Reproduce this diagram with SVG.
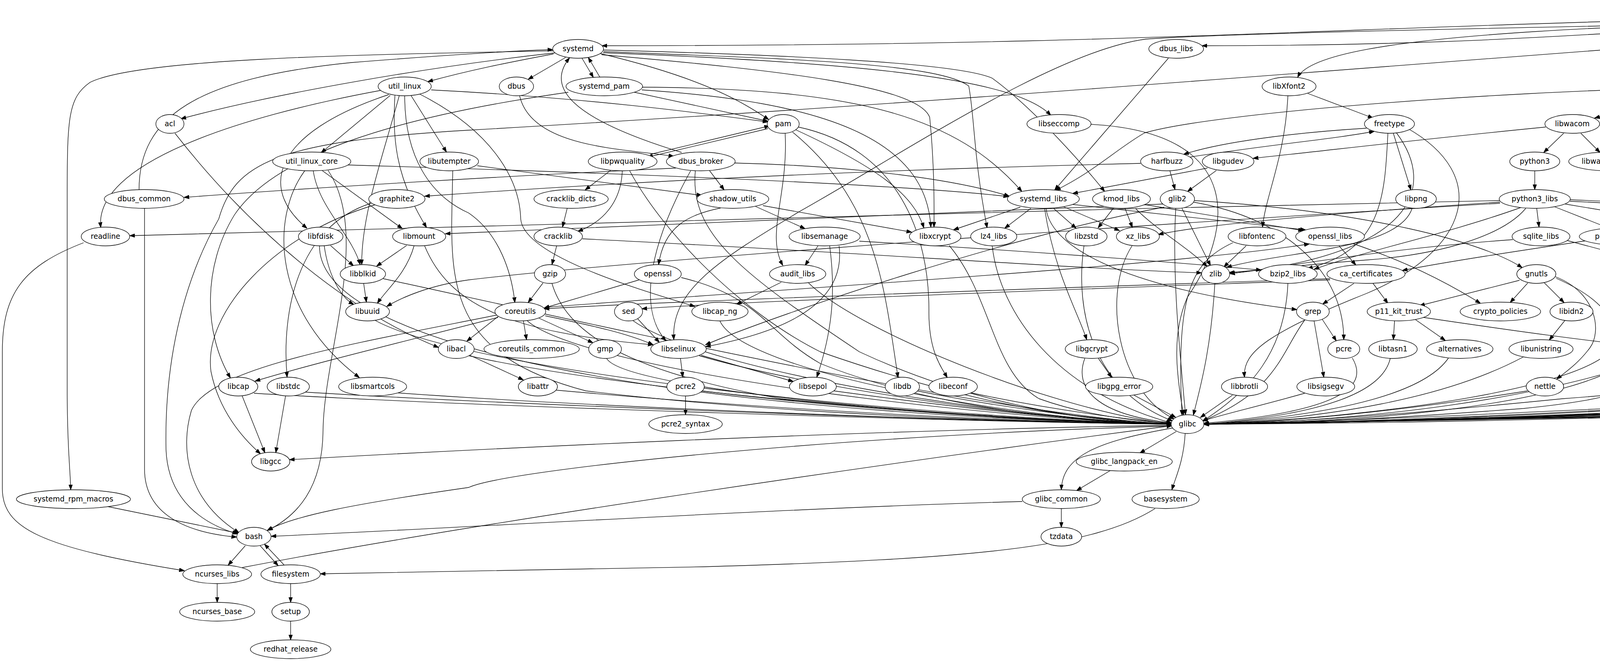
<svg xmlns="http://www.w3.org/2000/svg" width="7081" height="1691" viewBox="0 0 7081 1691">
<style>
.node ellipse{fill:#fff;stroke:#000;stroke-width:1.33}
.node text{font-family:"DejaVu Sans","Liberation Sans",sans-serif;font-size:18.67px;text-anchor:middle;fill:#000}
#edges path{fill:none;stroke:#000;stroke-width:1.33;marker-end:url(#arr)}
</style>
<defs>
<marker id="arr" viewBox="0 -5 14 10" refX="13.3" refY="0" markerWidth="14" markerHeight="10" markerUnits="userSpaceOnUse" orient="auto"><path d="M0,-4.7 L13.3,0 L0,4.7 z" fill="#000" stroke="#000" stroke-width="1.2"/></marker>
</defs>
<rect width="7081" height="1691" fill="#fff"/>
<g id="edges">
<path d="M5409,37 C3668,37 3282,117 1541,117"/>
<path d="M5409,39 C4360,39 4126,117 3077,117"/>
<path d="M5409,41 C4200,55 3380,80 3322,198"/>
<path d="M5537,53 L5537,101"/>
<path d="M5685,37 C6000,50 6300,80 6397,111"/>
<path d="M5685,39 C6400,60 6742,120 6742,197"/>
<path d="M5685,35 C6300,45 6720,60 6808,106"/>
<path d="M5685,33 C6400,40 6900,60 6971,106"/>
<path d="M5640,50 C5760,150 5650,330 5625,390"/>
<path d="M5650,48 C5900,150 6000,280 6068,390"/>
<path d="M5460,52 C5372,95 5362,140 5362,250 L5362,581"/>
<path d="M5400,40 C4500,60 3200,80 2934,100 C2700,130 2300,400 2045,542 C1850,660 1716,740 1725,869"/>
<path d="M5400,44 C4500,80 3000,230 1200,333 C700,362 600,420 560,560 C480,700 420,900 425,1150 C430,1280 520,1340 608,1366"/>
<path d="M5620,50 C5900,150 6420,400 6400,700 C6390,900 6380,990 6100,1010 C5000,1050 3500,1080 3082,1085"/>
<path d="M5557,101 L5557,53"/>
<path d="M5410,133 C4975,133 4879,213 4444,213"/>
<path d="M5684,133 C5994,133 6064,213 6374,213"/>
<path d="M6520,149 C6515,170 6505,180 6500,197"/>
<path d="M6590,148 L6707,201"/>
<path d="M6574,149 C6640,200 6646,250 6646,350 C6646,480 6670,540 6685,582"/>
<path d="M6858,149 C6895,250 6902,350 6902,880 C6902,960 6850,990 6700,1005 C5500,1040 3600,1080 3082,1085"/>
<path d="M7005,149 C6985,300 6983,400 6983,880 C6983,960 6950,1000 6800,1012 C5600,1045 3600,1080 3082,1086"/>
<path d="M6765,243 C6820,320 6853,370 6853,500 L6853,880 C6853,950 6800,990 6700,1000 C5500,1040 3600,1078 3082,1084"/>
<path d="M6681,629 L6604,775"/>
<path d="M6708,629 L6733,678"/>
<path d="M6711,724 L6622,780"/>
<path d="M6746,725 C6748,850 6740,950 6550,990 C5500,1040 3600,1078 3082,1084"/>
<path d="M6509,723 L6563,776"/>
<path d="M6482,725 C6470,850 6460,980 6380,1005 C5500,1040 3600,1078 3082,1084"/>
<path d="M6336,716 L6540,785"/>
<path d="M6306,629 L6298,677"/>
<path d="M6586,821 L6586,869"/>
<path d="M6537,808 C6400,830 6200,860 6053,886"/>
<path d="M5992,917 L5972,966"/>
<path d="M5910,996 C5000,1030 3600,1080 3082,1085"/>
<path d="M6242,821 L6250,869"/>
<path d="M6218,821 C6200,900 6180,960 6100,990 C5300,1030 3600,1080 3082,1085"/>
<path d="M6172,723 L6212,774"/>
<path d="M6145,725 C6130,850 6100,990 5980,1010 C5200,1040 3600,1080 3082,1085"/>
<path d="M6103,485 L6103,437"/>
<path d="M6057,531 L5958,583"/>
<path d="M6141,531 L6268,584"/>
<path d="M6103,533 C6110,600 6130,640 6143,678"/>
<path d="M6118,533 L6260,681"/>
<path d="M6176,515 C6400,540 6530,580 6500,678"/>
<path d="M6014,515 C5700,520 5350,540 5215,588"/>
<path d="M6020,525 C5900,545 5830,560 5790,588"/>
<path d="M6084,533 C6060,700 6020,780 6015,870"/>
<path d="M6085,437 L6085,485"/>
<path d="M6043,432 C5900,460 5800,480 5749,497"/>
<path d="M6170,425 C6450,480 6580,600 6584,773"/>
<path d="M5583,435 L5537,486"/>
<path d="M5550,486 L5593,436"/>
<path d="M5631,436 L5674,486"/>
<path d="M5670,531 C5580,600 5569,650 5569,800 C5569,1000 5500,1010 5300,1006 C4800,1000 3700,1075 3082,1085"/>
<path d="M5455,527 L5212,588"/>
<path d="M5481,531 L5400,583"/>
<path d="M5562,531 L5683,585"/>
<path d="M5590,525 L5866,590"/>
<path d="M5430,511 C5100,520 5022,580 5022,677"/>
<path d="M5516,533 C5500,700 5420,800 5300,874"/>
<path d="M5536,533 C5600,680 5800,800 5968,877"/>
<path d="M5302,624 L5074,691"/>
<path d="M5347,629 L5272,773"/>
<path d="M5447,615 C5700,640 5900,670 6102,694"/>
<path d="M5052,611 C4700,630 4400,700 4200,900 C4050,1050 3400,1083 3082,1085"/>
<path d="M5715,629 C5700,700 5692,750 5692,900 C5692,990 5600,1015 5400,1020 C4500,1045 3500,1083 3082,1085"/>
<path d="M5890,627 C5790,680 5776,750 5776,880 C5776,980 5700,1010 5500,1022 C4500,1050 3500,1083 3082,1085"/>
<path d="M5180,818 C5100,860 5076,900 5075,965"/>
<path d="M5194,916 L5104,971"/>
<path d="M5217,917 C5170,990 5120,1015 4900,1040 C4300,1070 3500,1084 3082,1085"/>
<path d="M5040,1000 C4500,1050 3500,1083 3082,1085"/>
<path d="M5038,725 C5038,850 5040,960 4960,1010 C4700,1050 3500,1083 3082,1085"/>
<path d="M4340,238 L4082,302"/>
<path d="M4448,228 C4600,240 4750,270 4812,302"/>
<path d="M4447,234 C4650,260 4850,280 4940,303"/>
<path d="M4330,224 C3800,235 3100,290 2930,340 C2860,380 2800,440 2702,487"/>
<path d="M4447,232 C4700,250 4762,300 4762,400 C4762,600 4700,700 4400,850 C4000,1040 3400,1080 3082,1085"/>
<path d="M4003,341 L3952,390"/>
<path d="M4047,341 L4096,390"/>
<path d="M3957,325 C3600,360 3400,385 3208,405"/>
<path d="M3929,437 L3929,485"/>
<path d="M3934,533 L3940,581"/>
<path d="M3980,529 L4122,585"/>
<path d="M4007,522 L4392,586"/>
<path d="M4019,511 C4500,530 4700,560 4712,773"/>
<path d="M4019,515 C4600,540 4900,600 4998,684"/>
<path d="M3906,533 C3850,600 3700,650 3500,665 C3300,680 3200,695 3147,697"/>
<path d="M3893,531 C3700,600 3500,640 3364,689"/>
<path d="M3840,517 C3500,540 3100,570 2965,600"/>
<path d="M3840,513 C2500,540 800,590 332,603"/>
<path d="M3840,520 C2500,600 1500,680 1200,716 C1100,730 1030,760 990,784"/>
<path d="M3873,613 C3500,640 3250,690 3148,700"/>
<path d="M4000,612 C4400,720 4596,760 4596,850 C4596,960 4400,990 4000,1020 C3600,1060 3300,1082 3082,1085"/>
<path d="M4060,616 C3900,640 3700,670 3590,692"/>
<path d="M4707,821 C4705,930 4680,1000 4500,1025 C4000,1060 3400,1083 3082,1085"/>
<path d="M4988,341 C4960,600 4946,800 4946,900 C4946,990 4850,1005 4600,1030 C4000,1070 3400,1083 3082,1085"/>
<path d="M4854,341 C4860,600 4862,800 4862,900 C4862,980 4800,1000 4600,1020 C4000,1065 3400,1083 3082,1085"/>
<path d="M3890,717 L3634,782"/>
<path d="M3911,724 L3866,774"/>
<path d="M3953,723 L4004,774"/>
<path d="M3982,708 C4090,750 4100,850 4070,890 C4040,930 4010,950 3985,970"/>
<path d="M3984,712 C4140,780 4150,860 4120,900 C4020,1000 3500,1070 3082,1085"/>
<path d="M3570,821 L3567,869"/>
<path d="M3624,818 L3700,871"/>
<path d="M3644,812 C3900,850 4050,870 4208,887"/>
<path d="M3559,917 C3540,1000 3400,1060 3082,1085"/>
<path d="M3708,916 C3650,1000 3450,1060 3082,1085"/>
<path d="M3900,913 C3700,1020 3400,1070 3082,1085"/>
<path d="M3910,1000 C3600,1050 3300,1080 3082,1085"/>
<path d="M4006,820 L3966,870"/>
<path d="M4321,902 C4600,930 4850,960 5037,983"/>
<path d="M4255,917 C4220,990 4150,1020 3900,1045 C3500,1075 3300,1083 3082,1085"/>
<path d="M3515,725 L3553,776"/>
<path d="M3466,725 L3386,778"/>
<path d="M3405,713 C2900,730 1700,770 1393,790"/>
<path d="M3405,716 C2900,735 1900,770 1643,790"/>
<path d="M3385,817 L3421,872"/>
<path d="M3364,821 L3389,965"/>
<path d="M3340,819 C3280,900 3270,1000 3078,1077"/>
<path d="M3462,916 C3500,980 3460,1050 3081,1083"/>
<path d="M3340,1006 C3220,1040 3130,1060 3078,1077"/>
<path d="M3155,1011 L3073,1068"/>
<path d="M2903,1011 L3010,1068"/>
<path d="M2812,917 L2846,966"/>
<path d="M2777,917 C2750,990 2800,1060 2999,1082"/>
<path d="M2486,1005 C2700,1050 2900,1075 3000,1083"/>
<path d="M2348,1000 C2600,1050 2850,1078 3000,1084"/>
<path d="M2135,1000 C2500,1050 2800,1080 3000,1084"/>
<path d="M1755,1013 L1755,1061"/>
<path d="M1797,1000 C2200,1050 2700,1080 3000,1085"/>
<path d="M1423,998 C2000,1050 2600,1080 3000,1085"/>
<path d="M620,1013 L678,1158"/>
<path d="M650,1006 C1200,1040 2500,1080 3000,1085"/>
<path d="M731,1013 L706,1158"/>
<path d="M780,1003 C1300,1035 2500,1080 3000,1085"/>
<path d="M1017,1005 C1500,1040 2500,1080 3000,1085"/>
<path d="M961,820 C1200,950 2300,1065 3000,1085"/>
<path d="M931,725 L938,773"/>
<path d="M981,713 C1300,780 2500,1060 3000,1085"/>
<path d="M1041,628 L964,681"/>
<path d="M1060,629 C1040,700 990,740 966,776"/>
<path d="M1087,629 C1150,780 1300,850 1672,882"/>
<path d="M846,628 L905,680"/>
<path d="M830,629 C840,700 870,760 906,779"/>
<path d="M818,629 C815,900 1800,1060 3000,1085"/>
<path d="M802,437 C815,530 900,600 922,677"/>
<path d="M823,435 L1030,585"/>
<path d="M780,437 C690,560 700,800 920,966"/>
<path d="M890,422 C1500,440 2300,470 2582,503"/>
<path d="M840,436 C950,600 830,900 827,1100 C826,1250 760,1320 685,1357"/>
<path d="M976,231 C600,300 240,420 258,582"/>
<path d="M995,242 C700,340 660,480 786,584"/>
<path d="M999,244 L822,391"/>
<path d="M1022,245 C980,400 925,550 926,677"/>
<path d="M1011,244 C1005,350 1010,450 1092,582"/>
<path d="M1052,244 L1143,389"/>
<path d="M1104,230 C1500,250 1800,290 1966,312"/>
<path d="M1075,241 C1250,330 1330,450 1333,560 C1340,650 1600,730 1779,784"/>
<path d="M1036,245 C1036,400 1100,500 1200,545 C1280,600 1310,700 1318,774"/>
<path d="M1448,147 L1352,203"/>
<path d="M1490,149 L1519,198"/>
<path d="M1536,198 L1506,147"/>
<path d="M1417,138 C1300,160 1200,180 1095,209"/>
<path d="M1423,135 C1100,170 700,240 463,304"/>
<path d="M1416,130 C900,140 350,150 230,211 C175,250 172,300 172,500 L172,1000 C172,1150 180,1200 181,1253"/>
<path d="M1545,128 C2000,140 2450,160 2540,200 C2650,280 2780,430 2828,490"/>
<path d="M1545,132 C2000,150 2400,160 2480,220 C2495,300 2492,400 2527,583"/>
<path d="M1544,135 C2200,160 2600,200 2690,295"/>
<path d="M1540,140 C2000,180 2350,220 2380,300 C2390,400 2392,500 2391,581"/>
<path d="M1537,137 C1800,200 1900,260 1968,306"/>
<path d="M1330,244 C1360,380 1600,380 1725,400"/>
<path d="M1624,236 L1966,310"/>
<path d="M1645,223 C2200,226 2450,300 2616,490"/>
<path d="M1643,230 C2100,260 2370,350 2383,581"/>
<path d="M1455,236 C1000,300 700,400 600,550 C520,680 520,850 590,967"/>
<path d="M1966,329 L1658,402"/>
<path d="M1664,395 L1970,322"/>
<path d="M2010,341 C2018,500 1960,600 2004,679"/>
<path d="M2029,338 C2250,520 2265,750 2299,966"/>
<path d="M2044,325 C2300,380 2380,600 2378,800 C2378,900 2410,940 2425,966"/>
<path d="M2037,332 C2250,430 2340,500 2365,583"/>
<path d="M1563,436 L1498,486"/>
<path d="M1593,437 C1590,520 1540,570 1479,592"/>
<path d="M1612,437 C1700,600 1900,800 2100,900 C2500,1040 2800,1080 3000,1085"/>
<path d="M1452,533 L1440,581"/>
<path d="M1425,629 L1413,677"/>
<path d="M1491,611 C2100,640 2800,690 3076,698"/>
<path d="M1390,724 L1352,774"/>
<path d="M1413,725 C1450,850 1600,950 2000,1020 C2500,1070 2800,1083 3000,1085"/>
<path d="M1636,716 L1393,788"/>
<path d="M1744,710 C1950,760 1960,850 2100,930 C2400,1050 2800,1082 3000,1085"/>
<path d="M1845,532 C1760,550 1700,580 1686,677"/>
<path d="M1340,821 L1348,869"/>
<path d="M1276,809 L1195,873"/>
<path d="M1380,814 L1518,877"/>
<path d="M1396,808 C1500,830 1600,850 1672,882"/>
<path d="M1275,812 C1050,870 800,930 653,975"/>
<path d="M1396,786 C2000,740 3000,680 3352,624"/>
<path d="M1272,806 C900,880 540,940 490,1050 C460,1150 480,1280 612,1363"/>
<path d="M1350,821 C1500,950 2500,1070 3000,1085"/>
<path d="M1632,815 L1688,876"/>
<path d="M1620,820 C1800,950 2600,1075 3000,1085"/>
<path d="M1843,821 C1900,950 2600,1075 3000,1085"/>
<path d="M2000,722 L1885,779"/>
<path d="M2070,724 C2200,850 2700,1050 3000,1085"/>
<path d="M1742,917 L1748,965"/>
<path d="M1795,909 L2031,976"/>
<path d="M1790,910 C2100,1000 2700,1080 3000,1085"/>
<path d="M1203,909 L1340,972"/>
<path d="M1200,910 C1600,1000 2500,1075 3000,1085"/>
<path d="M1553,917 C1600,1000 2500,1075 3000,1085"/>
<path d="M2094,629 L2061,679"/>
<path d="M2124,629 C2140,750 2130,850 2091,965"/>
<path d="M2148,629 C2170,800 1950,860 1806,887"/>
<path d="M2200,617 C2600,640 3000,670 3229,691"/>
<path d="M1934,528 L2061,585"/>
<path d="M1953,526 L2334,594"/>
<path d="M1222,424 L1797,500"/>
<path d="M1159,437 C1155,700 1120,900 1500,1000 C2000,1060 2600,1080 3000,1085"/>
<path d="M1745,390 C1450,300 1400,220 1458,148"/>
<path d="M1730,430 C1300,450 800,480 471,505"/>
<path d="M1816,436 L1854,486"/>
<path d="M1880,417 C2200,425 2450,460 2584,502"/>
<path d="M1780,437 C1765,600 1900,700 2200,900 C2500,1040 2800,1080 3000,1085"/>
<path d="M1768,437 C1650,650 1640,800 1705,872"/>
<path d="M356,485 C356,300 500,200 900,160 C1150,140 1350,128 1415,127"/>
<path d="M370,533 L370,1200 C370,1300 450,1360 606,1374"/>
<path d="M950,520 C760,580 720,800 735,965"/>
<path d="M960,524 C700,600 520,800 540,950 C560,1050 620,1120 667,1161"/>
<path d="M3045,402 C3250,370 3420,355 3518,336"/>
<path d="M3498,328 C3300,340 3120,365 3030,395"/>
<path d="M2995,437 L3008,485"/>
<path d="M2920,418 C2000,440 1400,480 1087,502"/>
<path d="M3567,341 L3612,486"/>
<path d="M3553,341 C3545,500 3540,640 3347,687"/>
<path d="M3575,340 C3680,480 3620,650 3148,700"/>
<path d="M3601,327 C3820,450 3760,640 3500,750 C3250,850 3180,900 3186,965"/>
<path d="M3615,533 C3580,640 3300,640 3140,684"/>
<path d="M3348,239 L3515,302"/>
<path d="M3297,245 C3290,400 3240,500 3232,581"/>
<path d="M3190,629 L3133,683"/>
<path d="M3156,621 C3050,670 3010,750 3026,1062"/>
<path d="M2991,149 L2700,486"/>
<path d="M2793,318 C3200,340 3150,600 3040,760 C3000,850 3010,950 3030,1062"/>
<path d="M2850,533 L2811,583"/>
<path d="M2880,533 L2899,582"/>
<path d="M2907,533 C2950,580 3050,640 3090,682"/>
<path d="M2928,523 L3337,590"/>
<path d="M2612,530 L2441,588"/>
<path d="M2639,533 L2572,584"/>
<path d="M2697,533 L2755,584"/>
<path d="M2723,529 L2866,590"/>
<path d="M2746,523 L3342,588"/>
<path d="M2674,533 C2700,700 2760,800 2782,869"/>
<path d="M2678,533 C2690,640 2900,740 3320,792"/>
<path d="M3026,533 L3099,680"/>
<path d="M2977,522 C2300,550 1500,580 1140,598"/>
<path d="M2980,530 C2600,600 2000,800 1806,882"/>
<path d="M3055,517 C3300,560 3440,700 3440,869"/>
<path d="M3057,513 C3500,540 3800,620 3897,685"/>
<path d="M3010,533 C3000,700 3020,900 3035,1061"/>
<path d="M3114,436 L3040,490"/>
<path d="M3091,430 L2746,495"/>
<path d="M2540,629 C2560,800 2700,1000 2999,1082"/>
<path d="M2775,629 C2750,800 2800,1000 3002,1077"/>
<path d="M2898,629 C2820,750 2860,1000 3006,1072"/>
<path d="M2430,628 C2540,760 2540,950 2660,1020 C2800,1070 2950,1080 3000,1083"/>
<path d="M3110,725 C3100,900 3070,1000 3055,1062"/>
<path d="M3297,725 C3290,900 3200,1000 3079,1077"/>
<path d="M3428,629 L3471,678"/>
<path d="M3463,623 C3600,670 3700,720 3790,776"/>
<path d="M3011,1104 L2918,1159"/>
<path d="M3002,1095 C2800,1130 2720,1170 2717,1253"/>
<path d="M3034,1109 C3030,1180 3010,1220 3000,1253"/>
<path d="M3000,1090 C2200,1110 1300,1200 1200,1247 C900,1290 750,1320 684,1357"/>
<path d="M3000,1088 C2200,1100 1200,1150 741,1176"/>
<path d="M2842,1204 L2756,1255"/>
<path d="M2717,1301 L2717,1349"/>
<path d="M2617,1283 C2000,1300 1200,1350 694,1372"/>
<path d="M2957,1301 C2800,1400 2500,1430 1800,1450 C1200,1462 900,1467 820,1468"/>
<path d="M556,1493 L556,1541"/>
<path d="M620,1452 C1200,1340 2300,1180 3000,1089"/>
<path d="M628,1396 L584,1446"/>
<path d="M666,1396 L712,1447"/>
<path d="M727,1445 L677,1392"/>
<path d="M744,1493 L744,1541"/>
<path d="M744,1589 L744,1637"/>
<path d="M276,1296 L609,1364"/>
<path d="M214,621 C60,680 6,750 6,900 L6,1250 C6,1350 100,1400 472,1460"/>
<path d="M448,341 C650,600 900,800 1123,889"/>
</g>
<g id="nodes">
<g id="xorg_x11_server_Xorg" class="node"><ellipse cx="5547" cy="29" rx="147" ry="24"/><text x="5547" y="35">xorg_x11_server_Xorg</text></g>
<g id="systemd" class="node"><ellipse cx="1480" cy="125" rx="65" ry="24"/><text x="1480" y="131">systemd</text></g>
<g id="dbus_libs" class="node"><ellipse cx="3011" cy="125" rx="70" ry="24"/><text x="3011" y="131">dbus_libs</text></g>
<g id="xorg_x11_drv_libinput" class="node"><ellipse cx="5547" cy="125" rx="146" ry="24"/><text x="5547" y="131">xorg_x11_drv_libinput</text></g>
<g id="xorg_x11_server_common" class="node"><ellipse cx="6534" cy="125" rx="171" ry="24"/><text x="6534" y="131">xorg_x11_server_common</text></g>
<g id="libXdmcp" class="node"><ellipse cx="6850" cy="125" rx="70" ry="24"/><text x="6850" y="131">libXdmcp</text></g>
<g id="libepoxy" class="node"><ellipse cx="7010" cy="125" rx="65" ry="24"/><text x="7010" y="131">libepoxy</text></g>
<g id="util_linux" class="node"><ellipse cx="1036" cy="221" rx="68" ry="24"/><text x="1036" y="227">util_linux</text></g>
<g id="dbus" class="node"><ellipse cx="1322" cy="221" rx="44" ry="24"/><text x="1322" y="227">dbus</text></g>
<g id="systemd_pam" class="node"><ellipse cx="1547" cy="221" rx="98" ry="24"/><text x="1547" y="227">systemd_pam</text></g>
<g id="libXfont2" class="node"><ellipse cx="3300" cy="221" rx="69" ry="24"/><text x="3300" y="227">libXfont2</text></g>
<g id="libinput" class="node"><ellipse cx="4389" cy="221" rx="59" ry="24"/><text x="4389" y="227">libinput</text></g>
<g id="xkeyboard_config" class="node"><ellipse cx="6487" cy="221" rx="120" ry="24"/><text x="6487" y="227">xkeyboard_config</text></g>
<g id="pixman" class="node"><ellipse cx="6742" cy="221" rx="59" ry="24"/><text x="6742" y="227">pixman</text></g>
<g id="acl" class="node"><ellipse cx="435" cy="317" rx="36" ry="24"/><text x="435" y="323">acl</text></g>
<g id="pam" class="node"><ellipse cx="2005" cy="317" rx="41" ry="24"/><text x="2005" y="323">pam</text></g>
<g id="libseccomp" class="node"><ellipse cx="2711" cy="317" rx="82" ry="24"/><text x="2711" y="323">libseccomp</text></g>
<g id="freetype" class="node"><ellipse cx="3557" cy="317" rx="64" ry="24"/><text x="3557" y="323">freetype</text></g>
<g id="libwacom" class="node"><ellipse cx="4025" cy="317" rx="70" ry="24"/><text x="4025" y="323">libwacom</text></g>
<g id="mtdev" class="node"><ellipse cx="4852" cy="317" rx="53" ry="24"/><text x="4852" y="323">mtdev</text></g>
<g id="libevdev" class="node"><ellipse cx="4993" cy="317" rx="66" ry="24"/><text x="4993" y="323">libevdev</text></g>
<g id="util_linux_core" class="node"><ellipse cx="798" cy="413" rx="100" ry="24"/><text x="798" y="419">util_linux_core</text></g>
<g id="libutempter" class="node"><ellipse cx="1150" cy="413" rx="75" ry="24"/><text x="1150" y="419">libutempter</text></g>
<g id="libpwquality" class="node"><ellipse cx="1594" cy="413" rx="88" ry="24"/><text x="1594" y="419">libpwquality</text></g>
<g id="dbus_broker" class="node"><ellipse cx="1794" cy="413" rx="88" ry="24"/><text x="1794" y="419">dbus_broker</text></g>
<g id="harfbuzz" class="node"><ellipse cx="2987" cy="413" rx="67" ry="24"/><text x="2987" y="419">harfbuzz</text></g>
<g id="libgudev" class="node"><ellipse cx="3144" cy="413" rx="66" ry="24"/><text x="3144" y="419">libgudev</text></g>
<g id="python3" class="node"><ellipse cx="3929" cy="413" rx="64" ry="24"/><text x="3929" y="419">python3</text></g>
<g id="libwacom_data" class="node"><ellipse cx="4119" cy="413" rx="103" ry="24"/><text x="4119" y="419">libwacom_data</text></g>
<g id="libglvnd_egl" class="node"><ellipse cx="5608" cy="413" rx="87" ry="24"/><text x="5608" y="419">libglvnd_egl</text></g>
<g id="libglvnd_glx" class="node"><ellipse cx="6094" cy="413" rx="87" ry="24"/><text x="6094" y="419">libglvnd_glx</text></g>
<g id="dbus_common" class="node"><ellipse cx="369" cy="509" rx="102" ry="24"/><text x="369" y="515">dbus_common</text></g>
<g id="graphite2" class="node"><ellipse cx="1016" cy="509" rx="72" ry="24"/><text x="1016" y="515">graphite2</text></g>
<g id="cracklib_dicts" class="node"><ellipse cx="1462" cy="509" rx="95" ry="24"/><text x="1462" y="515">cracklib_dicts</text></g>
<g id="shadow_utils" class="node"><ellipse cx="1876" cy="509" rx="92" ry="24"/><text x="1876" y="515">shadow_utils</text></g>
<g id="systemd_libs" class="node"><ellipse cx="2671" cy="509" rx="92" ry="24"/><text x="2671" y="515">systemd_libs</text></g>
<g id="kmod_libs" class="node"><ellipse cx="2871" cy="509" rx="74" ry="24"/><text x="2871" y="515">kmod_libs</text></g>
<g id="glib2" class="node"><ellipse cx="3014" cy="509" rx="44" ry="24"/><text x="3014" y="515">glib2</text></g>
<g id="libpng" class="node"><ellipse cx="3625" cy="509" rx="52" ry="24"/><text x="3625" y="515">libpng</text></g>
<g id="python3_libs" class="node"><ellipse cx="3929" cy="509" rx="91" ry="24"/><text x="3929" y="515">python3_libs</text></g>
<g id="mesa_libEGL" class="node"><ellipse cx="5520" cy="509" rx="90" ry="24"/><text x="5520" y="515">mesa_libEGL</text></g>
<g id="libglvnd" class="node"><ellipse cx="5696" cy="509" rx="62" ry="24"/><text x="5696" y="515">libglvnd</text></g>
<g id="mesa_libGL" class="node"><ellipse cx="6094" cy="509" rx="82" ry="24"/><text x="6094" y="515">mesa_libGL</text></g>
<g id="readline" class="node"><ellipse cx="270" cy="605" rx="62" ry="24"/><text x="270" y="611">readline</text></g>
<g id="libfdisk" class="node"><ellipse cx="821" cy="605" rx="57" ry="24"/><text x="821" y="611">libfdisk</text></g>
<g id="libmount" class="node"><ellipse cx="1073" cy="605" rx="68" ry="24"/><text x="1073" y="611">libmount</text></g>
<g id="cracklib" class="node"><ellipse cx="1429" cy="605" rx="62" ry="24"/><text x="1429" y="611">cracklib</text></g>
<g id="libsemanage" class="node"><ellipse cx="2111" cy="605" rx="91" ry="24"/><text x="2111" y="611">libsemanage</text></g>
<g id="libxcrypt" class="node"><ellipse cx="2394" cy="605" rx="66" ry="24"/><text x="2394" y="611">libxcrypt</text></g>
<g id="lz4_libs" class="node"><ellipse cx="2544" cy="605" rx="59" ry="24"/><text x="2544" y="611">lz4_libs</text></g>
<g id="libzstd" class="node"><ellipse cx="2781" cy="605" rx="53" ry="24"/><text x="2781" y="611">libzstd</text></g>
<g id="xz_libs" class="node"><ellipse cx="2913" cy="605" rx="55" ry="24"/><text x="2913" y="611">xz_libs</text></g>
<g id="libfontenc" class="node"><ellipse cx="3218" cy="605" rx="74" ry="24"/><text x="3218" y="611">libfontenc</text></g>
<g id="openssl_libs" class="node"><ellipse cx="3405" cy="605" rx="88" ry="24"/><text x="3405" y="611">openssl_libs</text></g>
<g id="sqlite_libs" class="node"><ellipse cx="3945" cy="605" rx="74" ry="24"/><text x="3945" y="611">sqlite_libs</text></g>
<g id="python3_pip_wheel" class="node"><ellipse cx="4173" cy="605" rx="130" ry="24"/><text x="4173" y="611">python3_pip_wheel</text></g>
<g id="python3_setuptools_wheel" class="node"><ellipse cx="4500" cy="605" rx="173" ry="24"/><text x="4500" y="611">python3_setuptools_wheel</text></g>
<g id="mesa_libglapi" class="node"><ellipse cx="5148" cy="605" rx="96" ry="24"/><text x="5148" y="611">mesa_libglapi</text></g>
<g id="mesa_libgbm" class="node"><ellipse cx="5362" cy="605" rx="95" ry="24"/><text x="5362" y="611">mesa_libgbm</text></g>
<g id="libxshmfence" class="node"><ellipse cx="5728" cy="605" rx="95" ry="24"/><text x="5728" y="611">libxshmfence</text></g>
<g id="libX11_xcb" class="node"><ellipse cx="5926" cy="605" rx="80" ry="24"/><text x="5926" y="611">libX11_xcb</text></g>
<g id="libXxf86vm" class="node"><ellipse cx="6316" cy="605" rx="83" ry="24"/><text x="6316" y="611">libXxf86vm</text></g>
<g id="xkbcomp" class="node"><ellipse cx="6694" cy="605" rx="69" ry="24"/><text x="6694" y="611">xkbcomp</text></g>
<g id="libblkid" class="node"><ellipse cx="929" cy="701" rx="58" ry="24"/><text x="929" y="707">libblkid</text></g>
<g id="gzip" class="node"><ellipse cx="1408" cy="701" rx="40" ry="24"/><text x="1408" y="707">gzip</text></g>
<g id="openssl" class="node"><ellipse cx="1684" cy="701" rx="60" ry="24"/><text x="1684" y="707">openssl</text></g>
<g id="audit_libs" class="node"><ellipse cx="2042" cy="701" rx="72" ry="24"/><text x="2042" y="707">audit_libs</text></g>
<g id="zlib" class="node"><ellipse cx="3112" cy="701" rx="36" ry="24"/><text x="3112" y="707">zlib</text></g>
<g id="bzip2_libs" class="node"><ellipse cx="3297" cy="701" rx="75" ry="24"/><text x="3297" y="707">bzip2_libs</text></g>
<g id="ca_certificates" class="node"><ellipse cx="3497" cy="701" rx="100" ry="24"/><text x="3497" y="707">ca_certificates</text></g>
<g id="gnutls" class="node"><ellipse cx="3933" cy="701" rx="50" ry="24"/><text x="3933" y="707">gnutls</text></g>
<g id="expat" class="node"><ellipse cx="5031" cy="701" rx="47" ry="24"/><text x="5031" y="707">expat</text></g>
<g id="libdrm" class="node"><ellipse cx="6151" cy="701" rx="52" ry="24"/><text x="6151" y="707">libdrm</text></g>
<g id="libXext" class="node"><ellipse cx="6289" cy="701" rx="55" ry="24"/><text x="6289" y="707">libXext</text></g>
<g id="libXfixes" class="node"><ellipse cx="6485" cy="701" rx="65" ry="24"/><text x="6485" y="707">libXfixes</text></g>
<g id="libxkbfile" class="node"><ellipse cx="6744" cy="701" rx="69" ry="24"/><text x="6744" y="707">libxkbfile</text></g>
<g id="libuuid" class="node"><ellipse cx="941" cy="797" rx="56" ry="24"/><text x="941" y="803">libuuid</text></g>
<g id="coreutils" class="node"><ellipse cx="1332" cy="797" rx="65" ry="24"/><text x="1332" y="803">coreutils</text></g>
<g id="sed" class="node"><ellipse cx="1609" cy="797" rx="36" ry="24"/><text x="1609" y="803">sed</text></g>
<g id="libcap_ng" class="node"><ellipse cx="1843" cy="797" rx="72" ry="24"/><text x="1843" y="803">libcap_ng</text></g>
<g id="grep" class="node"><ellipse cx="3361" cy="797" rx="42" ry="24"/><text x="3361" y="803">grep</text></g>
<g id="p11_kit_trust" class="node"><ellipse cx="3581" cy="797" rx="81" ry="24"/><text x="3581" y="803">p11_kit_trust</text></g>
<g id="crypto_policies" class="node"><ellipse cx="3841" cy="797" rx="103" ry="24"/><text x="3841" y="803">crypto_policies</text></g>
<g id="libidn2" class="node"><ellipse cx="4023" cy="797" rx="55" ry="24"/><text x="4023" y="803">libidn2</text></g>
<g id="gdbm_libs" class="node"><ellipse cx="4710" cy="797" rx="77" ry="24"/><text x="4710" y="803">gdbm_libs</text></g>
<g id="libwayland_server" class="node"><ellipse cx="5254" cy="797" rx="122" ry="24"/><text x="5254" y="803">libwayland_server</text></g>
<g id="libpciaccess" class="node"><ellipse cx="6235" cy="797" rx="87" ry="24"/><text x="6235" y="803">libpciaccess</text></g>
<g id="libX11" class="node"><ellipse cx="6586" cy="797" rx="52" ry="24"/><text x="6586" y="803">libX11</text></g>
<g id="libacl" class="node"><ellipse cx="1168" cy="893" rx="46" ry="24"/><text x="1168" y="899">libacl</text></g>
<g id="coreutils_common" class="node"><ellipse cx="1361" cy="893" rx="122" ry="24"/><text x="1361" y="899">coreutils_common</text></g>
<g id="gmp" class="node"><ellipse cx="1549" cy="893" rx="42" ry="24"/><text x="1549" y="899">gmp</text></g>
<g id="libselinux" class="node"><ellipse cx="1737" cy="893" rx="71" ry="24"/><text x="1737" y="899">libselinux</text></g>
<g id="libgcrypt" class="node"><ellipse cx="2795" cy="893" rx="68" ry="24"/><text x="2795" y="899">libgcrypt</text></g>
<g id="pcre" class="node"><ellipse cx="3440" cy="893" rx="41" ry="24"/><text x="3440" y="899">pcre</text></g>
<g id="libtasn1" class="node"><ellipse cx="3566" cy="893" rx="62" ry="24"/><text x="3566" y="899">libtasn1</text></g>
<g id="alternatives" class="node"><ellipse cx="3737" cy="893" rx="85" ry="24"/><text x="3737" y="899">alternatives</text></g>
<g id="libunistring" class="node"><ellipse cx="3945" cy="893" rx="82" ry="24"/><text x="3945" y="899">libunistring</text></g>
<g id="p11_kit" class="node"><ellipse cx="4264" cy="893" rx="59" ry="24"/><text x="4264" y="899">p11_kit</text></g>
<g id="libwayland_client" class="node"><ellipse cx="5230" cy="893" rx="117" ry="24"/><text x="5230" y="899">libwayland_client</text></g>
<g id="libxcb" class="node"><ellipse cx="6005" cy="893" rx="50" ry="24"/><text x="6005" y="899">libxcb</text></g>
<g id="hwdata" class="node"><ellipse cx="6258" cy="893" rx="59" ry="24"/><text x="6258" y="899">hwdata</text></g>
<g id="libX11_common" class="node"><ellipse cx="6587" cy="893" rx="111" ry="24"/><text x="6587" y="899">libX11_common</text></g>
<g id="libcap" class="node"><ellipse cx="610" cy="989" rx="50" ry="24"/><text x="610" y="995">libcap</text></g>
<g id="libstdc" class="node"><ellipse cx="738" cy="989" rx="54" ry="24"/><text x="738" y="995">libstdc</text></g>
<g id="libsmartcols" class="node"><ellipse cx="954" cy="989" rx="87" ry="24"/><text x="954" y="995">libsmartcols</text></g>
<g id="libattr" class="node"><ellipse cx="1377" cy="989" rx="50" ry="24"/><text x="1377" y="995">libattr</text></g>
<g id="pcre2" class="node"><ellipse cx="1755" cy="989" rx="48" ry="24"/><text x="1755" y="995">pcre2</text></g>
<g id="libsepol" class="node"><ellipse cx="2081" cy="989" rx="60" ry="24"/><text x="2081" y="995">libsepol</text></g>
<g id="libdb" class="node"><ellipse cx="2310" cy="989" rx="44" ry="24"/><text x="2310" y="995">libdb</text></g>
<g id="libeconf" class="node"><ellipse cx="2440" cy="989" rx="62" ry="24"/><text x="2440" y="995">libeconf</text></g>
<g id="libgpg_error" class="node"><ellipse cx="2865" cy="989" rx="86" ry="24"/><text x="2865" y="995">libgpg_error</text></g>
<g id="libbrotli" class="node"><ellipse cx="3186" cy="989" rx="59" ry="24"/><text x="3186" y="995">libbrotli</text></g>
<g id="libsigsegv" class="node"><ellipse cx="3394" cy="989" rx="74" ry="24"/><text x="3394" y="995">libsigsegv</text></g>
<g id="nettle" class="node"><ellipse cx="3955" cy="989" rx="48" ry="24"/><text x="3955" y="995">nettle</text></g>
<g id="libffi" class="node"><ellipse cx="5076" cy="989" rx="41" ry="24"/><text x="5076" y="995">libffi</text></g>
<g id="libXau" class="node"><ellipse cx="5958" cy="989" rx="52" ry="24"/><text x="5958" y="995">libXau</text></g>
<g id="glibc" class="node"><ellipse cx="3040" cy="1085" rx="42" ry="24"/><text x="3040" y="1091">glibc</text></g>
<g id="pcre2_syntax" class="node"><ellipse cx="1755" cy="1085" rx="94" ry="24"/><text x="1755" y="1091">pcre2_syntax</text></g>
<g id="libgcc" class="node"><ellipse cx="693" cy="1181" rx="49" ry="24"/><text x="693" y="1187">libgcc</text></g>
<g id="glibc_langpack_en" class="node"><ellipse cx="2878" cy="1181" rx="123" ry="24"/><text x="2878" y="1187">glibc_langpack_en</text></g>
<g id="systemd_rpm_macros" class="node"><ellipse cx="188" cy="1277" rx="146" ry="24"/><text x="188" y="1283">systemd_rpm_macros</text></g>
<g id="glibc_common" class="node"><ellipse cx="2717" cy="1277" rx="100" ry="24"/><text x="2717" y="1283">glibc_common</text></g>
<g id="basesystem" class="node"><ellipse cx="2984" cy="1277" rx="86" ry="24"/><text x="2984" y="1283">basesystem</text></g>
<g id="bash" class="node"><ellipse cx="650" cy="1373" rx="44" ry="24"/><text x="650" y="1379">bash</text></g>
<g id="tzdata" class="node"><ellipse cx="2717" cy="1373" rx="52" ry="24"/><text x="2717" y="1379">tzdata</text></g>
<g id="ncurses_libs" class="node"><ellipse cx="556" cy="1469" rx="88" ry="24"/><text x="556" y="1475">ncurses_libs</text></g>
<g id="filesystem" class="node"><ellipse cx="744" cy="1469" rx="76" ry="24"/><text x="744" y="1475">filesystem</text></g>
<g id="ncurses_base" class="node"><ellipse cx="556" cy="1565" rx="96" ry="24"/><text x="556" y="1571">ncurses_base</text></g>
<g id="setup" class="node"><ellipse cx="744" cy="1565" rx="48" ry="24"/><text x="744" y="1571">setup</text></g>
<g id="redhat_release" class="node"><ellipse cx="744" cy="1661" rx="103" ry="24"/><text x="744" y="1667">redhat_release</text></g>
</g>
</svg>
